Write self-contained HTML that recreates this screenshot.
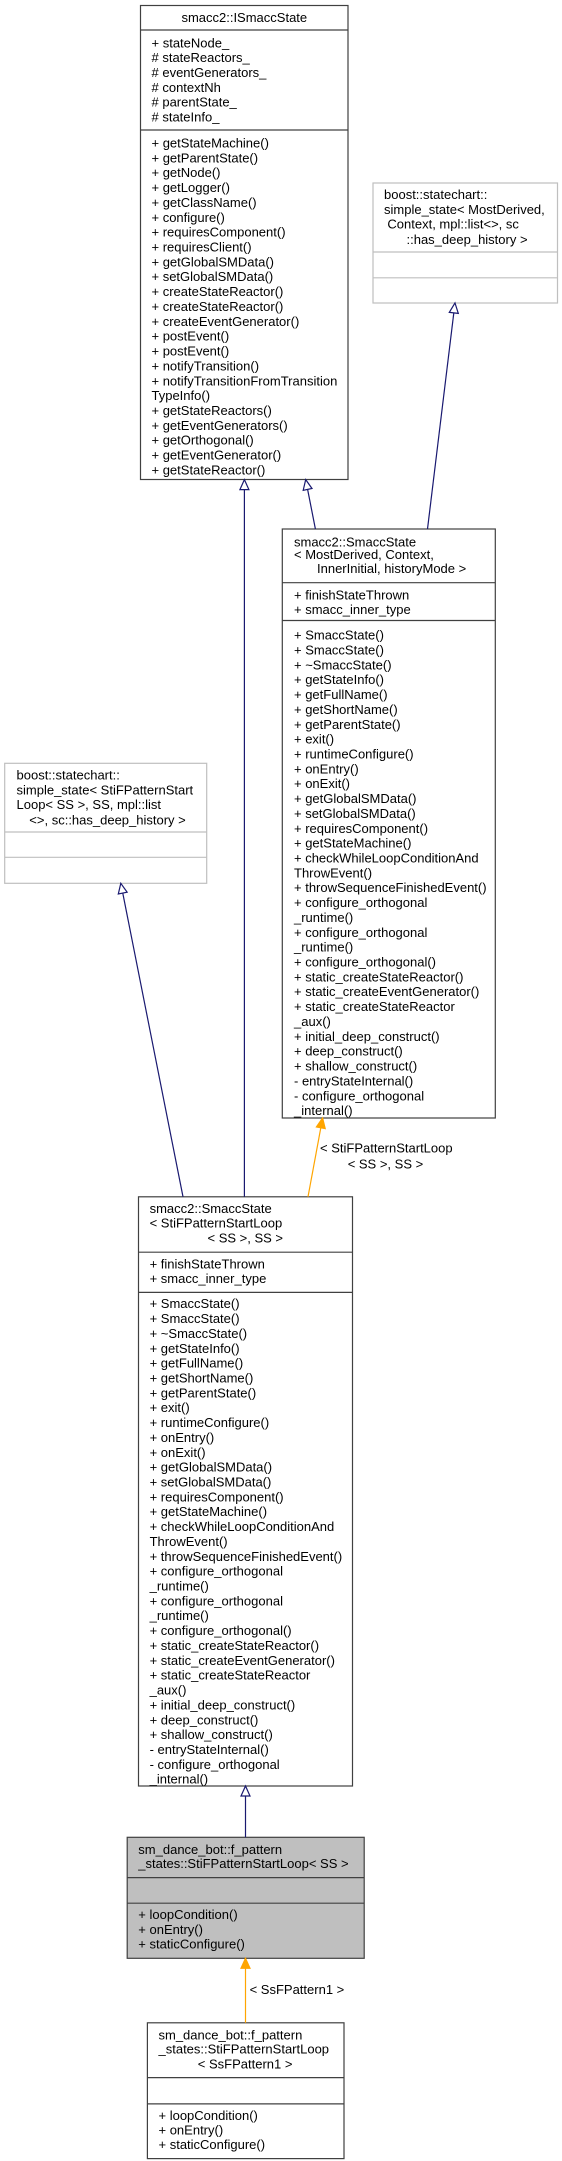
<!DOCTYPE html>
<html><head><meta charset="utf-8"><style>
html,body{margin:0;padding:0;background:#fff;}
svg{display:block;}
text{font-family:"Liberation Sans",Arial,sans-serif;font-size:13px;fill:#000;}
</style></head><body>
<svg width="562" height="2161" viewBox="0 0 562 2161" xmlns="http://www.w3.org/2000/svg">
<!-- ISmaccState -->
<rect x="140.5" y="5.5" width="207.5" height="474" fill="#fff" stroke="#404040" stroke-width="1.2"/>
<line x1="140.5" y1="30" x2="348" y2="30" stroke="#404040" stroke-width="1.2"/>
<line x1="140.5" y1="130" x2="348" y2="130" stroke="#404040" stroke-width="1.2"/>
<text x="244.3" y="22" text-anchor="middle">smacc2::ISmaccState</text>
<g transform="translate(151.5,47.3)">
<text y="0">+ stateNode_</text><text y="14.86"># stateReactors_</text><text y="29.72"># eventGenerators_</text><text y="44.58"># contextNh</text><text y="59.44"># parentState_</text><text y="74.3"># stateInfo_</text>
</g>
<g transform="translate(151.5,147.5)">
<text y="0">+ getStateMachine()</text><text y="14.86">+ getParentState()</text><text y="29.72">+ getNode()</text><text y="44.58">+ getLogger()</text><text y="59.44">+ getClassName()</text><text y="74.3">+ configure()</text><text y="89.16">+ requiresComponent()</text><text y="104.02">+ requiresClient()</text><text y="118.88">+ getGlobalSMData()</text><text y="133.74">+ setGlobalSMData()</text><text y="148.6">+ createStateReactor()</text><text y="163.46">+ createStateReactor()</text><text y="178.32">+ createEventGenerator()</text><text y="193.18">+ postEvent()</text><text y="208.04">+ postEvent()</text><text y="222.9">+ notifyTransition()</text><text y="237.76">+ notifyTransitionFromTransition</text><text y="252.62">TypeInfo()</text><text y="267.48">+ getStateReactors()</text><text y="282.34">+ getEventGenerators()</text><text y="297.2">+ getOrthogonal()</text><text y="312.06">+ getEventGenerator()</text><text y="326.92">+ getStateReactor()</text>
</g>

<!-- top-right boost -->
<rect x="373" y="183" width="184.5" height="120" fill="#fff" stroke="#bfbfbf" stroke-width="1.2"/>
<line x1="373" y1="252" x2="557.5" y2="252" stroke="#bfbfbf" stroke-width="1.2"/>
<line x1="373" y1="277.8" x2="557.5" y2="277.8" stroke="#bfbfbf" stroke-width="1.2"/>
<text x="384" y="199.2">boost::statechart::</text>
<text x="384" y="214.2">simple_state&lt; MostDerived,</text>
<text x="387.4" y="228.6">Context, mpl::list&lt;&gt;, sc</text>
<text x="406.5" y="243.8">::has_deep_history &gt;</text>

<!-- generic SmaccState -->
<rect x="282.3" y="529" width="213" height="589" fill="#fff" stroke="#404040" stroke-width="1.2"/>
<line x1="282.3" y1="582.7" x2="495.3" y2="582.7" stroke="#404040" stroke-width="1.2"/>
<line x1="282.3" y1="620.5" x2="495.3" y2="620.5" stroke="#404040" stroke-width="1.2"/>
<text x="294" y="546.3">smacc2::SmaccState</text>
<text x="294" y="558.9">&lt; MostDerived, Context,</text>
<text x="317" y="572.9">InnerInitial, historyMode &gt;</text>
<text x="294" y="599.6">+ finishStateThrown</text>
<text x="294" y="613.9">+ smacc_inner_type</text>
<g transform="translate(294,639.6)">
<text y="0">+ SmaccState()</text><text y="14.86">+ SmaccState()</text><text y="29.72">+ ~SmaccState()</text><text y="44.58">+ getStateInfo()</text><text y="59.44">+ getFullName()</text><text y="74.3">+ getShortName()</text><text y="89.16">+ getParentState()</text><text y="104.02">+ exit()</text><text y="118.88">+ runtimeConfigure()</text><text y="133.74">+ onEntry()</text><text y="148.6">+ onExit()</text><text y="163.46">+ getGlobalSMData()</text><text y="178.32">+ setGlobalSMData()</text><text y="193.18">+ requiresComponent()</text><text y="208.04">+ getStateMachine()</text><text y="222.9">+ checkWhileLoopConditionAnd</text><text y="237.76">ThrowEvent()</text><text y="252.62">+ throwSequenceFinishedEvent()</text><text y="267.48">+ configure_orthogonal</text><text y="282.34">_runtime()</text><text y="297.2">+ configure_orthogonal</text><text y="312.06">_runtime()</text><text y="326.92">+ configure_orthogonal()</text><text y="341.78">+ static_createStateReactor()</text><text y="356.64">+ static_createEventGenerator()</text><text y="371.5">+ static_createStateReactor</text><text y="386.36">_aux()</text><text y="401.22">+ initial_deep_construct()</text><text y="416.08">+ deep_construct()</text><text y="430.94">+ shallow_construct()</text><text y="445.8">- entryStateInternal()</text><text y="460.66">- configure_orthogonal</text><text y="475.52">_internal()</text>
</g>

<!-- left boost -->
<rect x="4.7" y="763.3" width="202" height="120" fill="#fff" stroke="#bfbfbf" stroke-width="1.2"/>
<line x1="4.7" y1="832" x2="206.7" y2="832" stroke="#bfbfbf" stroke-width="1.2"/>
<line x1="4.7" y1="857.3" x2="206.7" y2="857.3" stroke="#bfbfbf" stroke-width="1.2"/>
<text x="16.5" y="779.6">boost::statechart::</text>
<text x="16.5" y="794.6">simple_state&lt; StiFPatternStart</text>
<text x="16.5" y="808.9">Loop&lt; SS &gt;, SS, mpl::list</text>
<text x="29.3" y="824.6">&lt;&gt;, sc::has_deep_history &gt;</text>

<!-- main SmaccState<StiF...> -->
<rect x="138.5" y="1196.8" width="214" height="589.2" fill="#fff" stroke="#404040" stroke-width="1.2"/>
<line x1="138.5" y1="1252.2" x2="352.5" y2="1252.2" stroke="#404040" stroke-width="1.2"/>
<line x1="138.5" y1="1292.4" x2="352.5" y2="1292.4" stroke="#404040" stroke-width="1.2"/>
<text x="149.6" y="1213.2">smacc2::SmaccState</text>
<text x="149.6" y="1227.6">&lt; StiFPatternStartLoop</text>
<text x="207.5" y="1242.6">&lt; SS &gt;, SS &gt;</text>
<text x="149.6" y="1268.3">+ finishStateThrown</text>
<text x="149.6" y="1283.2">+ smacc_inner_type</text>
<g transform="translate(149.6,1308.2)">
<text y="0">+ SmaccState()</text><text y="14.86">+ SmaccState()</text><text y="29.72">+ ~SmaccState()</text><text y="44.58">+ getStateInfo()</text><text y="59.44">+ getFullName()</text><text y="74.3">+ getShortName()</text><text y="89.16">+ getParentState()</text><text y="104.02">+ exit()</text><text y="118.88">+ runtimeConfigure()</text><text y="133.74">+ onEntry()</text><text y="148.6">+ onExit()</text><text y="163.46">+ getGlobalSMData()</text><text y="178.32">+ setGlobalSMData()</text><text y="193.18">+ requiresComponent()</text><text y="208.04">+ getStateMachine()</text><text y="222.9">+ checkWhileLoopConditionAnd</text><text y="237.76">ThrowEvent()</text><text y="252.62">+ throwSequenceFinishedEvent()</text><text y="267.48">+ configure_orthogonal</text><text y="282.34">_runtime()</text><text y="297.2">+ configure_orthogonal</text><text y="312.06">_runtime()</text><text y="326.92">+ configure_orthogonal()</text><text y="341.78">+ static_createStateReactor()</text><text y="356.64">+ static_createEventGenerator()</text><text y="371.5">+ static_createStateReactor</text><text y="386.36">_aux()</text><text y="401.22">+ initial_deep_construct()</text><text y="416.08">+ deep_construct()</text><text y="430.94">+ shallow_construct()</text><text y="445.8">- entryStateInternal()</text><text y="460.66">- configure_orthogonal</text><text y="475.52">_internal()</text>
</g>

<!-- gray box -->
<rect x="127.2" y="1837.3" width="237" height="121" fill="#bfbfbf" stroke="#404040" stroke-width="1.2"/>
<line x1="127.2" y1="1877.6" x2="364.2" y2="1877.6" stroke="#404040" stroke-width="1.2"/>
<line x1="127.2" y1="1903.2" x2="364.2" y2="1903.2" stroke="#404040" stroke-width="1.2"/>
<text x="138.3" y="1854">sm_dance_bot::f_pattern</text>
<text x="138.3" y="1868.1">_states::StiFPatternStartLoop&lt; SS &gt;</text>
<text x="138.3" y="1919.2">+ loopCondition()</text>
<text x="138.3" y="1934">+ onEntry()</text>
<text x="138.3" y="1948.6">+ staticConfigure()</text>

<!-- bottom box -->
<rect x="147.4" y="2022.8" width="196.6" height="135.8" fill="#fff" stroke="#404040" stroke-width="1.2"/>
<line x1="147.4" y1="2077.6" x2="344" y2="2077.6" stroke="#404040" stroke-width="1.2"/>
<line x1="147.4" y1="2103.9" x2="344" y2="2103.9" stroke="#404040" stroke-width="1.2"/>
<text x="158.5" y="2039.6">sm_dance_bot::f_pattern</text>
<text x="158.5" y="2053.6">_states::StiFPatternStartLoop</text>
<text x="197.8" y="2068.6">&lt; SsFPattern1 &gt;</text>
<text x="158.5" y="2120.2">+ loopCondition()</text>
<text x="158.5" y="2134.6">+ onEntry()</text>
<text x="158.5" y="2149.2">+ staticConfigure()</text>

<!-- connectors -->
<g stroke="#191970" stroke-width="1.2" fill="#fff">
<line x1="244.4" y1="489.6" x2="244.4" y2="1196.8"/>
<polygon points="244.4,479.6 239.9,489.6 248.9,489.6"/>
<line x1="307.6" y1="489.4" x2="315.4" y2="529"/>
<polygon points="305.7,479.6 312,488.5 303.2,490.3"/>
<line x1="453.8" y1="312.9" x2="427.5" y2="529"/>
<polygon points="455,303 458.3,313.4 449.3,312.4"/>
<line x1="122.7" y1="892.8" x2="183" y2="1196.8"/>
<polygon points="120.8,883.3 127.1,892.2 118.3,894"/>
<line x1="245.5" y1="1796" x2="245.5" y2="1837.3"/>
<polygon points="245.5,1786 241,1796 250,1796"/>
</g>
<g stroke="#ffa500" stroke-width="1.2" fill="#ffa500">
<line x1="320.8" y1="1127.8" x2="308" y2="1196.8"/>
<polygon points="322.6,1118 325.2,1128.6 316.4,1127"/>
<line x1="245.5" y1="1968.3" x2="245.5" y2="2022.8"/>
<polygon points="245.5,1958.3 241,1968.3 250,1968.3"/>
</g>
<text x="320" y="1152.6">&lt; StiFPatternStartLoop</text>
<text x="347.7" y="1168.6">&lt; SS &gt;, SS &gt;</text>
<text x="249.6" y="1994.2">&lt; SsFPattern1 &gt;</text>
</svg>
</body></html>
